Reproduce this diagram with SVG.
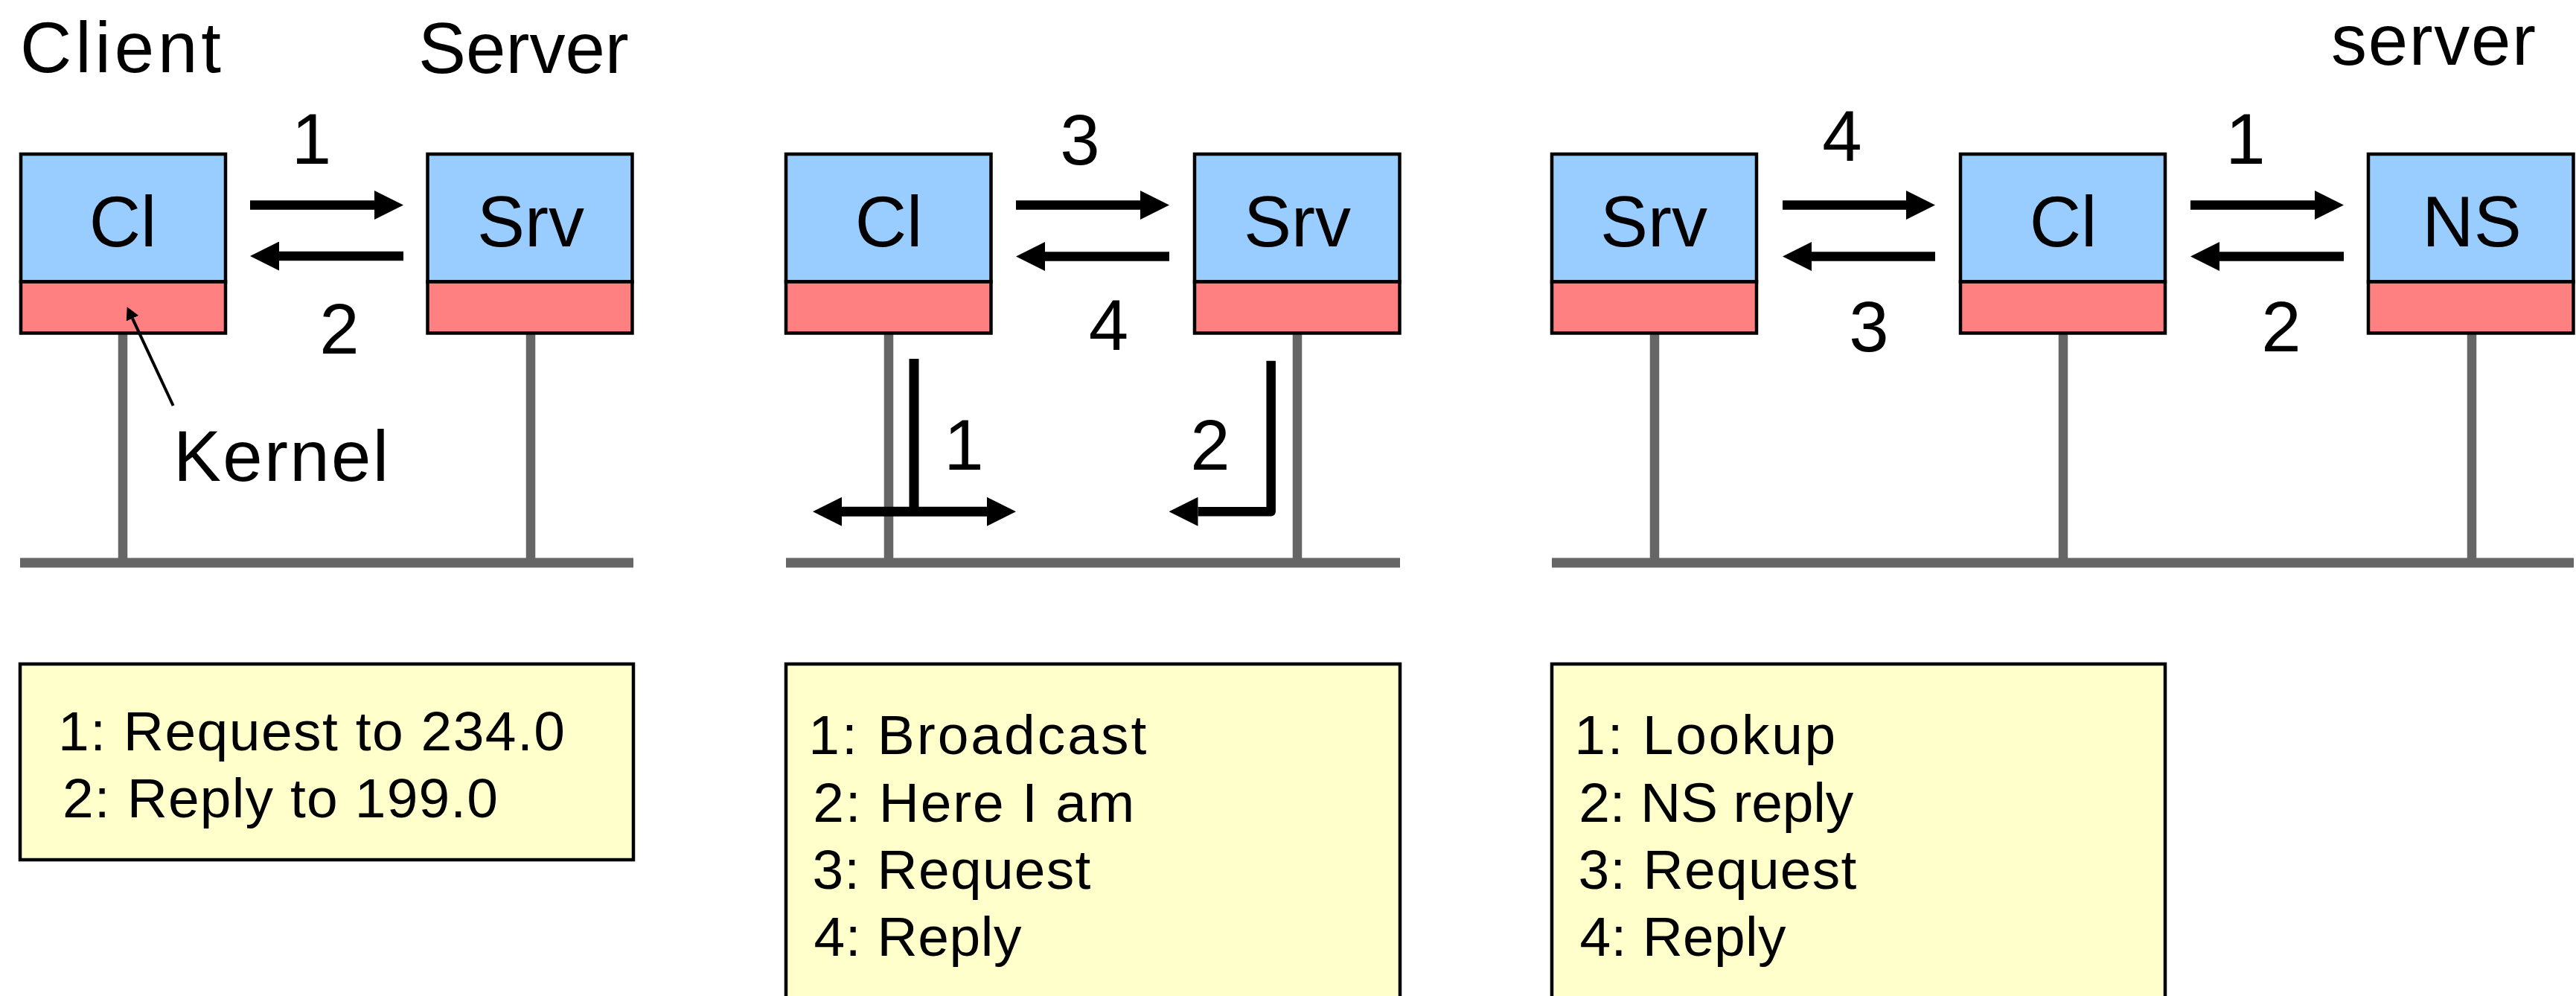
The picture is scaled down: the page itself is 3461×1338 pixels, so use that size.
<svg xmlns="http://www.w3.org/2000/svg" width="3461" height="1338" viewBox="0 0 3461 1338">
  <style>
    text { font-family: "Liberation Sans", Arial, sans-serif; fill: #000; }
    .big { font-size: 96px; }
    .mid { text-anchor: middle; }
    .legend-text { font-size: 75px; }
    .app { fill: #99CCFF; stroke: #000; stroke-width: 4.5; }
    .kern { fill: #FF8080; stroke: #000; stroke-width: 4.5; }
    .legend { fill: #FFFFCC; stroke: #000; stroke-width: 4.5; }
    .wire { stroke: #666666; stroke-width: 12.5; fill: none; }
    .bus { stroke: #666666; stroke-width: 13; fill: none; }
    .msg { stroke: #000; stroke-width: 12.5; fill: none; marker-end: url(#head); }
    .pointer { stroke: #000; stroke-width: 4; fill: none; marker-end: url(#small-head); }
  </style>
  <defs>
    <marker id="head" viewBox="0 0 39 39" markerUnits="userSpaceOnUse" markerWidth="39" markerHeight="39" refX="0" refY="19.5" orient="auto-start-reverse">
      <path d="M0,0 L39,19.5 L0,39 z" fill="#000"/>
    </marker>
    <marker id="small-head" viewBox="0 0 17 18" markerUnits="userSpaceOnUse" markerWidth="17" markerHeight="18" refX="0" refY="9" orient="auto">
      <path d="M0,0 L17,9 L0,18 z" fill="#000"/>
    </marker>
  </defs>

  <rect width="3461" height="1338" fill="#fff"/>

  <!-- network: bus lines and host stems -->
  <g id="network">
    <path class="bus" d="M27,756 H851"/>
    <path class="bus" d="M1056,756 H1881"/>
    <path class="bus" d="M2085,756 H3458"/>
    <path class="wire" d="M165,447 V750"/>
    <path class="wire" d="M713,447 V750"/>
    <path class="wire" d="M1194,447 V750"/>
    <path class="wire" d="M1743,447 V750"/>
    <path class="wire" d="M2223,447 V750"/>
    <path class="wire" d="M2772,447 V750"/>
    <path class="wire" d="M3321,447 V750"/>
  </g>

  <!-- panel 1: client and server at known addresses -->
  <g id="p1-client">
    <rect class="app" x="28" y="207" width="275" height="171.5"/>
    <rect class="kern" x="28" y="378.5" width="275" height="69"/>
    <text class="big mid" x="165" y="331">Cl</text>
  </g>
  <g id="p1-server">
    <rect class="app" x="574.5" y="207" width="275" height="171.5"/>
    <rect class="kern" x="574.5" y="378.5" width="275" height="69"/>
    <text class="big mid" x="713" y="331">Srv</text>
  </g>

  <!-- panel 2: locating the server by broadcast -->
  <g id="p2-client">
    <rect class="app" x="1056" y="207" width="275.5" height="171.5"/>
    <rect class="kern" x="1056" y="378.5" width="275.5" height="69"/>
    <text class="big mid" x="1194" y="331">Cl</text>
  </g>
  <g id="p2-server">
    <rect class="app" x="1605" y="207" width="275.5" height="171.5"/>
    <rect class="kern" x="1605" y="378.5" width="275.5" height="69"/>
    <text class="big mid" x="1743" y="331">Srv</text>
  </g>

  <!-- panel 3: locating the server through a name server -->
  <g id="p3-server">
    <rect class="app" x="2085" y="207" width="275" height="171.5"/>
    <rect class="kern" x="2085" y="378.5" width="275" height="69"/>
    <text class="big mid" x="2222" y="331">Srv</text>
  </g>
  <g id="p3-client">
    <rect class="app" x="2634" y="207" width="275" height="171.5"/>
    <rect class="kern" x="2634" y="378.5" width="275" height="69"/>
    <text class="big mid" x="2772" y="331">Cl</text>
  </g>
  <g id="p3-nameserver">
    <rect class="app" x="3182" y="207" width="275.5" height="171.5"/>
    <rect class="kern" x="3182" y="378.5" width="275.5" height="69"/>
    <text class="big mid" x="3321" y="331">NS</text>
  </g>

  <!-- message arrows -->
  <g id="connectors">
    <path class="msg" d="M336,275.5 H503"/>
    <path class="msg" d="M542,344 H375"/>
    <path class="msg" d="M1365,275.5 H1532"/>
    <path class="msg" d="M1571,344.5 H1404"/>
    <path d="M1228,482 V687" stroke="#000" stroke-width="13" fill="none"/>
    <path d="M1131,687.3 H1326" stroke="#000" stroke-width="13" fill="none" marker-start="url(#head)" marker-end="url(#head)"/>
    <path class="msg" d="M1707.7,484.7 V687.3 H1609.5" stroke-linejoin="round" stroke-width="13"/>
    <path class="msg" d="M2395,275.5 H2561"/>
    <path class="msg" d="M2600,344.5 H2434"/>
    <path class="msg" d="M2943,275.5 H3110"/>
    <path class="msg" d="M3149,344.5 H2982"/>
    <path class="pointer" d="M232.7,545 L177.9,427.7"/>
  </g>

  <!-- titles and step numbers -->
  <g id="labels">
    <text class="big" x="27" y="97" textLength="270">Client</text>
    <text class="big" x="562" y="98">Server</text>
    <text class="big" x="3132" y="87" textLength="275">server</text>
    <text class="big" x="233" y="646" textLength="289">Kernel</text>

    <text class="big mid" x="418.5" y="220">1</text>
    <text class="big mid" x="456" y="474.5">2</text>

    <text class="big mid" x="1451" y="221">3</text>
    <text class="big mid" x="1489.5" y="470">4</text>
    <text class="big mid" x="1295" y="630.7">1</text>
    <text class="big mid" x="1626" y="630.7">2</text>

    <text class="big mid" x="2475" y="216">4</text>
    <text class="big mid" x="2511" y="472">3</text>
    <text class="big mid" x="3017" y="220.4">1</text>
    <text class="big mid" x="3065" y="472">2</text>
  </g>

  <!-- legends -->
  <g id="legend-1">
    <rect class="legend" x="27" y="892" width="824" height="263"/>
    <text class="legend-text" x="78" y="1007.7" textLength="681">1: Request to 234.0</text>
    <text class="legend-text" x="84" y="1098.3" textLength="585">2: Reply to 199.0</text>
  </g>
  <g id="legend-2">
    <rect class="legend" x="1056" y="892" width="825" height="500"/>
    <text class="legend-text" x="1086.3" y="1013.3" textLength="454">1: Broadcast</text>
    <text class="legend-text" x="1092.2" y="1104" textLength="432">2: Here I am</text>
    <text class="legend-text" x="1091.4" y="1194" textLength="374">3: Request</text>
    <text class="legend-text" x="1093.5" y="1284" textLength="279">4: Reply</text>
  </g>
  <g id="legend-3">
    <rect class="legend" x="2085" y="892" width="824" height="500"/>
    <text class="legend-text" x="2115.3" y="1013.3" textLength="351">1: Lookup</text>
    <text class="legend-text" x="2121.2" y="1104" textLength="369">2: NS reply</text>
    <text class="legend-text" x="2120.4" y="1194" textLength="374">3: Request</text>
    <text class="legend-text" x="2122.5" y="1284" textLength="277">4: Reply</text>
  </g>
</svg>
